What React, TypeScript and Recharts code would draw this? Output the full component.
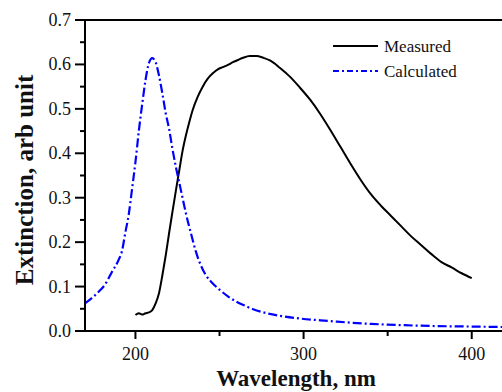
import { LineChart, Line, XAxis, YAxis, ReferenceLine, Label } from 'recharts';

// measured extinction spectrum (nm, arb unit)
const measured = [
  { wl: 200, v: 0.036 }, { wl: 202, v: 0.04 }, { wl: 204, v: 0.037 }, { wl: 206, v: 0.04 },
  { wl: 208, v: 0.042 }, { wl: 210, v: 0.047 }, { wl: 212, v: 0.062 }, { wl: 214, v: 0.085 },
  { wl: 216, v: 0.125 }, { wl: 218, v: 0.17 }, { wl: 220, v: 0.22 }, { wl: 222, v: 0.268 },
  { wl: 224, v: 0.315 }, { wl: 226, v: 0.36 }, { wl: 228, v: 0.405 }, { wl: 230, v: 0.44 },
  { wl: 232, v: 0.47 }, { wl: 234, v: 0.497 }, { wl: 237, v: 0.527 }, { wl: 240, v: 0.55 },
  { wl: 243, v: 0.568 }, { wl: 246, v: 0.58 }, { wl: 249, v: 0.589 }, { wl: 252, v: 0.594 },
  { wl: 255, v: 0.599 }, { wl: 258, v: 0.605 }, { wl: 261, v: 0.61 }, { wl: 264, v: 0.615 },
  { wl: 268, v: 0.619 }, { wl: 272, v: 0.619 }, { wl: 276, v: 0.615 }, { wl: 280, v: 0.609 },
  { wl: 286, v: 0.592 }, { wl: 292, v: 0.572 }, { wl: 298, v: 0.547 }, { wl: 304, v: 0.52 },
  { wl: 310, v: 0.488 }, { wl: 316, v: 0.452 }, { wl: 322, v: 0.414 }, { wl: 328, v: 0.376 },
  { wl: 334, v: 0.34 }, { wl: 340, v: 0.308 }, { wl: 346, v: 0.282 }, { wl: 352, v: 0.259 },
  { wl: 358, v: 0.236 }, { wl: 364, v: 0.213 }, { wl: 370, v: 0.193 }, { wl: 376, v: 0.173 },
  { wl: 382, v: 0.155 }, { wl: 388, v: 0.143 }, { wl: 394, v: 0.13 }, { wl: 400, v: 0.119 },
];

// calculated spectrum
const calculated = [
  { wl: 170, v: 0.062 }, { wl: 174, v: 0.074 }, { wl: 178, v: 0.088 }, { wl: 182, v: 0.105 },
  { wl: 186, v: 0.133 }, { wl: 190, v: 0.16 }, { wl: 192, v: 0.18 }, { wl: 194, v: 0.222 },
  { wl: 196, v: 0.262 }, { wl: 198, v: 0.32 }, { wl: 200, v: 0.38 }, { wl: 202, v: 0.45 },
  { wl: 204, v: 0.51 }, { wl: 206, v: 0.565 }, { wl: 208, v: 0.603 }, { wl: 210, v: 0.614 },
  { wl: 212, v: 0.605 }, { wl: 214, v: 0.575 }, { wl: 216, v: 0.535 }, { wl: 218, v: 0.49 },
  { wl: 220, v: 0.455 }, { wl: 222, v: 0.41 }, { wl: 224, v: 0.37 }, { wl: 226, v: 0.335 },
  { wl: 228, v: 0.3 }, { wl: 230, v: 0.265 }, { wl: 233, v: 0.22 }, { wl: 236, v: 0.178 },
  { wl: 239, v: 0.147 }, { wl: 242, v: 0.125 }, { wl: 246, v: 0.107 }, { wl: 250, v: 0.093 },
  { wl: 255, v: 0.078 }, { wl: 260, v: 0.066 }, { wl: 265, v: 0.057 }, { wl: 270, v: 0.049 },
  { wl: 278, v: 0.04 }, { wl: 288, v: 0.033 }, { wl: 298, v: 0.028 }, { wl: 310, v: 0.024 },
  { wl: 320, v: 0.021 }, { wl: 340, v: 0.016 }, { wl: 360, v: 0.013 }, { wl: 380, v: 0.011 },
  { wl: 400, v: 0.01 }, { wl: 418, v: 0.009 },
];

const xTicks = [200, 250, 300, 350, 400];
const yTicks = [0, 0.05, 0.1, 0.15, 0.2, 0.25, 0.3, 0.35, 0.4, 0.45, 0.5, 0.55, 0.6, 0.65, 0.7];

const serif = { fontFamily: "'Liberation Serif', serif" };

const XTick = (props: any) => {
  const { x, y, payload } = props;
  const major = payload.value % 100 === 0;
  return (
    <g>
      <line x1={x} x2={x} y1={y} y2={y + (major ? 8 : 5)} stroke="#000" strokeWidth={2} />
      {major && (
        <text x={x} y={y + 29} textAnchor="middle" style={serif} fontSize={18} fill="#111">
          {payload.value}
        </text>
      )}
    </g>
  );
};

const YTick = (props: any) => {
  const { x, y, payload } = props;
  const major = Math.round(payload.value * 100) % 10 === 0;
  return (
    <g>
      <line x1={x - (major ? 10 : 5)} x2={x} y1={y} y2={y} stroke="#000" strokeWidth={2} />
      {major && (
        <text x={x - 14} y={y + 6} textAnchor="end" style={serif} fontSize={18} fill="#111">
          {payload.value.toFixed(1)}
        </text>
      )}
    </g>
  );
};

export default function App() {
  return (
    <div style={{ position: 'absolute', left: 0, top: 0, width: 502, height: 392, background: '#fff' }}>
      <LineChart width={502} height={392} margin={{ top: 20, right: 0, bottom: 31, left: 25 }}>
        <XAxis
          dataKey="wl"
          type="number"
          domain={[170, 418]}
          allowDataOverflow
          ticks={xTicks}
          interval={0}
          tick={<XTick />}
          tickLine={false}
          tickSize={0}
          tickMargin={0}
          height={30}
          axisLine={{ stroke: '#000', strokeWidth: 2 }}
        >
          <Label
            content={() => (
              <text x={296} y={386} textAnchor="middle" style={serif} fontSize={23} fontWeight="bold" fill="#111">
                Wavelength, nm
              </text>
            )}
          />
        </XAxis>
        <YAxis
          type="number"
          domain={[0, 0.7]}
          ticks={yTicks}
          interval={0}
          tick={<YTick />}
          tickLine={false}
          tickSize={0}
          tickMargin={0}
          width={60}
          axisLine={{ stroke: '#000', strokeWidth: 2 }}
        >
          <Label
            content={() => (
              <text
                x={24}
                y={180}
                transform="rotate(-90 24 180)"
                textAnchor="middle"
                dominantBaseline="central"
                style={serif}
                fontSize={25}
                fontWeight="bold"
                fill="#111"
              >
                Extinction, arb unit
              </text>
            )}
          />
        </YAxis>
        <ReferenceLine y={0.7} stroke="#000" strokeWidth={2} />
        <Line
          data={measured}
          dataKey="v"
          name="Measured"
          type="monotone"
          stroke="#000"
          strokeWidth={2}
          dot={false}
          isAnimationActive={false}
        />
        <Line
          data={calculated}
          dataKey="v"
          name="Calculated"
          type="monotone"
          stroke="#0000ff"
          strokeWidth={2.2}
          strokeDasharray="9 3 2 3"
          dot={false}
          isAnimationActive={false}
        />
      </LineChart>
      <svg width={130} height={45} style={{ position: 'absolute', left: 333, top: 36 }}>
        <line x1={0} x2={45} y1={10} y2={10} stroke="#000" strokeWidth={2} />
        <text x={51} y={16} style={serif} fontSize={17} fill="#111">Measured</text>
        <line x1={0} x2={45} y1={35} y2={35} stroke="#0000ff" strokeWidth={2} strokeDasharray="6 3 2 3" />
        <text x={51} y={41} style={serif} fontSize={17} fill="#111">Calculated</text>
      </svg>
    </div>
  );
}
